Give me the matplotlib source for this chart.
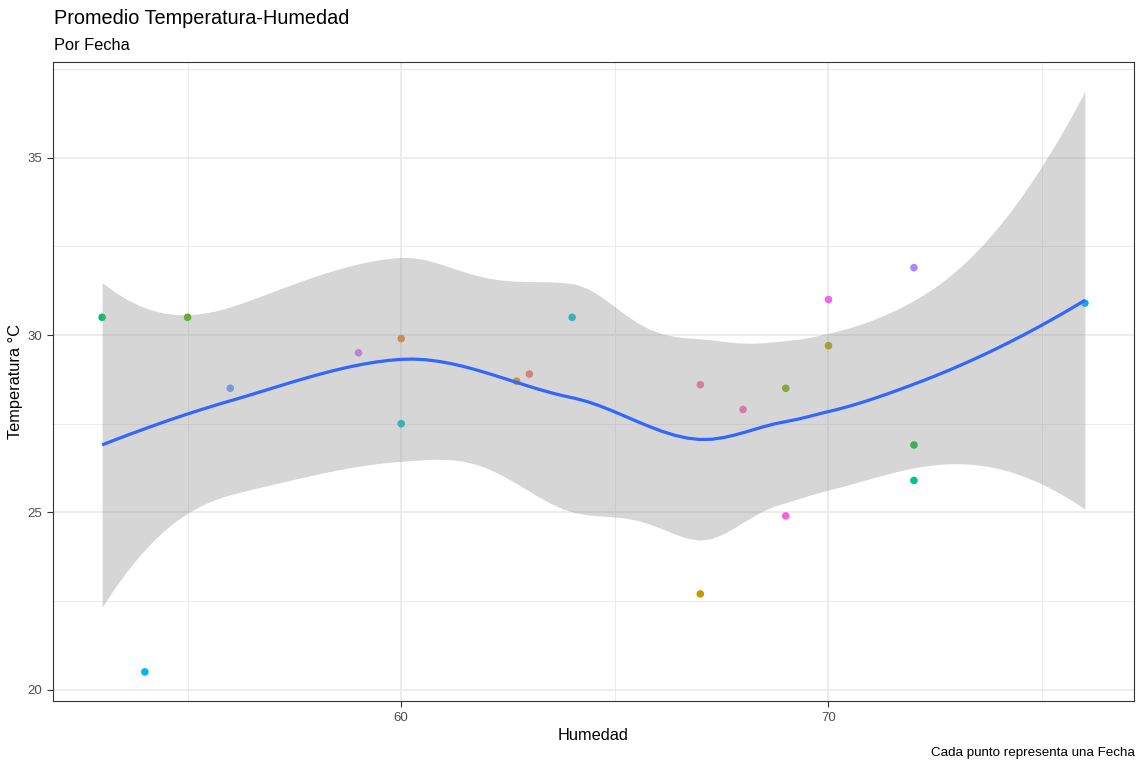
import math

import matplotlib

matplotlib.use("Agg")
import matplotlib.pyplot as plt
import numpy as np

# Humedad / Temperatura promedio por fecha
humedad = [53, 54, 55, 56, 59, 60, 60, 62.7, 63, 64, 67,
           67, 68, 69, 69, 70, 70, 72, 72, 72, 76]
temperatura = [30.5, 20.5, 30.5, 28.5, 29.5, 29.9, 27.5, 28.7, 28.9, 30.5, 28.6,
               22.7, 27.9, 28.5, 24.9, 31.0, 29.7, 31.9, 26.9, 25.9, 30.9]
# index of each point's Fecha level in the (21-level) colour scale
fecha_idx = [8, 12, 6, 14, 16, 1, 10, 2, 0, 11, 20,
             3, 19, 5, 18, 17, 4, 15, 7, 9, 13]
n_fechas = 21

TITLE = "Promedio Temperatura-Humedad"
SUBTITLE = "Por Fecha"
CAPTION = "Cada punto representa una Fecha"
XLABEL = "Humedad"
YLABEL = "Temperatura °C"


def hcl_hex(h, c=100.0, l=65.0):
    # polarLUV -> sRGB, same white point as R's hcl()
    xn, yn, zn = 95.047, 100.0, 108.883
    hr = math.radians(h)
    u_, v_ = c * math.cos(hr), c * math.sin(hr)
    y = yn * (((l + 16) / 116) ** 3 if l > 8 else l / 903.3)
    un = 4 * xn / (xn + 15 * yn + 3 * zn)
    vn = 9 * yn / (xn + 15 * yn + 3 * zn)
    u = u_ / (13 * l) + un
    v = v_ / (13 * l) + vn
    x = 9.0 * y * u / (4 * v)
    z = -x / 3 - 5 * y + 3 * y / v
    x, y, z = x / 100, y / 100, z / 100
    r = 3.240479 * x - 1.537150 * y - 0.498535 * z
    g = -0.969256 * x + 1.875992 * y + 0.041556 * z
    b = 0.055648 * x - 0.204043 * y + 1.057311 * z

    def gam(a):
        a = a * 12.92 if a <= 0.0031308 else 1.055 * a ** (1 / 2.4) - 0.055
        return min(max(a, 0.0), 1.0)

    return "#%02X%02X%02X" % tuple(int(round(gam(k) * 255)) for k in (r, g, b))


def hue_pal(n):
    hues = np.linspace(15, 375, n + 1)[:-1]
    return [hcl_hex(h % 360) for h in hues]


def kd_vertices(x, span=0.75, cell=0.2):
    # 1-d version of loess' kd tree (ehg124): split cells at the median value
    xs = np.sort(x)
    n = len(xs)
    fc = int(np.floor(n * span * cell))
    mu = 0.005 * (xs[-1] - xs[0])
    verts = {xs[0] - mu, xs[-1] + mu}

    def split(lo, hi, vlo, vhi):
        if hi - lo + 1 <= fc:
            return
        m = (lo + hi) // 2
        off = 0
        while lo <= m + off < hi:
            if xs[m + off] == xs[m + off + 1]:
                off = -off
                if off >= 0:
                    off += 1
            else:
                m = m + off
                break
        xi = xs[m]
        if xi == vlo or xi == vhi:
            return
        verts.add(xi)
        split(lo, m, vlo, xi)
        split(m + 1, hi, xi, vhi)

    split(0, n - 1, xs[0] - mu, xs[-1] + mu)
    return np.array(sorted(verts))


def local_rows(x, x0, q):
    n = len(x)
    d = np.abs(x - x0)
    h = np.sort(d)[q - 1]
    w = np.clip(1 - (d / h) ** 3, 0, None) ** 3
    X = np.column_stack([np.ones(n), x - x0, (x - x0) ** 2])
    W = np.diag(w)
    A = np.linalg.solve(X.T @ W @ X, X.T @ W)
    return A[0], A[1]


def loess_fit(x, y, xs, span=0.75):
    n = len(x)
    q = int(np.floor(n * span))
    vx = kd_vertices(x, span)
    vrows = [local_rows(x, v, q) for v in vx]

    def op_row(x0):
        # cubic Hermite interpolation between kd-tree vertices
        i = min(max(np.searchsorted(vx, x0) - 1, 0), len(vx) - 2)
        a, b = vx[i], vx[i + 1]
        hh = b - a
        t = (x0 - a) / hh
        h00 = 2 * t ** 3 - 3 * t ** 2 + 1
        h10 = t ** 3 - 2 * t ** 2 + t
        h01 = -2 * t ** 3 + 3 * t ** 2
        h11 = t ** 3 - t ** 2
        (f0, d0), (f1, d1) = vrows[i], vrows[i + 1]
        return h00 * f0 + h10 * hh * d0 + h01 * f1 + h11 * hh * d1

    L = np.array([op_row(xi) for xi in x])
    res = y - L @ y
    M = (np.eye(n) - L).T @ (np.eye(n) - L)
    d1 = np.trace(M)
    d2 = np.trace(M @ M)
    sigma = math.sqrt(np.sum(res ** 2) / d1)
    df = d1 ** 2 / d2
    Lp = np.array([op_row(x0) for x0 in xs])
    fit = Lp @ y
    se = sigma * np.sqrt(np.sum(Lp ** 2, axis=1))
    return fit, se, df


def t_quantile(p, df):
    # bisection on the Student t cdf (regularized incomplete beta)
    from math import lgamma, exp, log

    def betainc(a, b, xx):
        if xx <= 0:
            return 0.0
        if xx >= 1:
            return 1.0
        bt = exp(lgamma(a + b) - lgamma(a) - lgamma(b) + a * log(xx) + b * log(1 - xx))

        def cf(a, b, xx):
            qab, qap, qam = a + b, a + 1, a - 1
            c, d = 1.0, 1 - qab * xx / qap
            d = 1 / d
            hh = d
            for m in range(1, 300):
                m2 = 2 * m
                aa = m * (b - m) * xx / ((qam + m2) * (a + m2))
                d = 1 / (1 + aa * d)
                c = 1 + aa / c
                hh *= d * c
                aa = -(a + m) * (qab + m) * xx / ((a + m2) * (qap + m2))
                d = 1 / (1 + aa * d)
                c = 1 + aa / c
                hh *= d * c
            return hh

        if xx < (a + 1) / (a + b + 2):
            return bt * cf(a, b, xx) / a
        return 1 - bt * cf(b, a, 1 - xx) / b

    def cdf(t):
        ib = betainc(df / 2, 0.5, df / (df + t * t))
        return 1 - 0.5 * ib if t > 0 else 0.5 * ib

    lo, hi = 0.0, 50.0
    for _ in range(100):
        mid = (lo + hi) / 2
        if cdf(mid) < p:
            lo = mid
        else:
            hi = mid
    return (lo + hi) / 2


x = np.array(humedad, dtype=float)
y = np.array(temperatura, dtype=float)
xs = np.linspace(x.min(), x.max(), 80)
fit, se, df = loess_fit(x, y, xs)
tq = t_quantile(0.975, df)

plt.rcParams["font.family"] = ["Liberation Sans", "DejaVu Sans"]

fig = plt.figure(figsize=(11.38, 7.65), dpi=100)
ax = fig.add_axes([53 / 1138, 64 / 765, (1134 - 53) / 1138, (703 - 64) / 765])

pal = hue_pal(n_fechas)
cols = [pal[i] for i in fecha_idx]
ax.scatter(x, y, s=30, c=cols, edgecolors="none", zorder=3)
ax.fill_between(xs, fit - tq * se, fit + tq * se, color="#999999", alpha=0.4,
                linewidth=0, zorder=4)
ax.plot(xs, fit, color="#3366FF", lw=2.3, zorder=5, solid_capstyle="butt")

ax.set_xlim(51.85, 77.15)
ax.set_ylim(19.68, 37.7)
ax.set_xticks([60, 70])
ax.set_xticks([55, 65, 75], minor=True)
ax.set_yticks([20, 25, 30, 35])
ax.set_yticks([22.5, 27.5, 32.5, 37.5], minor=True)
ax.grid(which="major", color="#EBEBEB", lw=1.3, zorder=0)
ax.grid(which="minor", color="#EBEBEB", lw=0.7, zorder=0)
ax.set_axisbelow(True)
ax.tick_params(which="major", length=4, width=0.8, color="#333333",
               labelsize=9.5, labelcolor="#4D4D4D", pad=4)
ax.tick_params(which="minor", length=0)
for sp in ax.spines.values():
    sp.set_color("#333333")
    sp.set_linewidth(0.8)

ax.set_xlabel(XLABEL, fontsize=11.8, labelpad=3)
ax.set_ylabel(YLABEL, fontsize=11.8, labelpad=3)

fig.text(54 / 1138, 1 - 18 / 765, TITLE, fontsize=14.3, va="center", ha="left")
fig.text(54 / 1138, 1 - 45 / 765, SUBTITLE, fontsize=11.8, va="center", ha="left")
fig.text(1135 / 1138, 1 - 753 / 765, CAPTION, fontsize=9.6, va="center", ha="right")

fig.savefig("out.png", dpi=100)
